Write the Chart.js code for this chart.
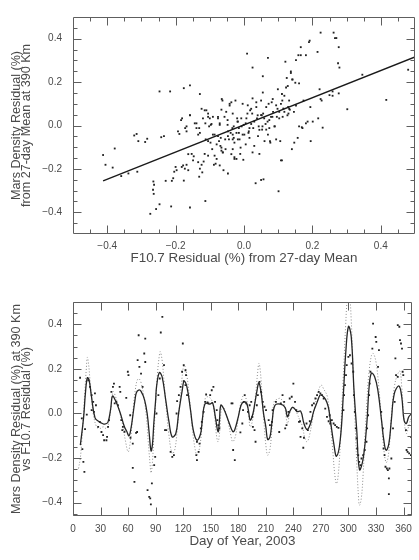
<!DOCTYPE html>
<html lang="en">
<head>
<meta charset="UTF-8">
<title>Mars Density Residual vs F10.7 Residual</title>
<script src="https://cdn.jsdelivr.net/npm/chart.js"></script>
<style>
    html, body { margin: 0; padding: 0; background: #fff; }
    .panel { position: absolute; left: 0; width: 419px; height: 280px; }
    #topPanel { top: 0; }
    #bottomPanel { top: 280px; }
</style>
</head>
<body>

<div class="panel" id="topPanel"><canvas id="scatter" width="419" height="280"></canvas></div>
<div class="panel" id="bottomPanel"><canvas id="series" width="419" height="280"></canvas></div>

<script>
// ---- top panel: daily residuals, F10.7 (x) vs Mars density (y) ----
const f107Res = [
 -0.412,-0.405,-0.378,-0.384,-0.359,-0.338,-0.321,-0.314,-0.309,-0.312,-0.289,-0.283,-0.247,-0.216,-0.242,-0.234,
 -0.265,-0.263,-0.266,-0.264,-0.257,-0.274,-0.247,-0.229,-0.213,-0.211,-0.207,-0.204,-0.200,-0.197,-0.193,-0.189,
 -0.184,-0.181,-0.176,-0.158,-0.172,-0.168,-0.182,-0.178,-0.173,-0.168,-0.163,-0.176,-0.158,-0.158,-0.153,-0.147,
 -0.149,-0.139,-0.131,-0.129,-0.129,-0.134,-0.129,-0.124,-0.131,-0.122,-0.118,-0.113,-0.110,-0.105,-0.112,-0.105,
 -0.100,-0.095,-0.098,-0.093,-0.091,-0.086,-0.088,-0.105,-0.115,-0.080,-0.083,-0.076,-0.071,-0.066,-0.063,-0.076,
 -0.073,-0.069,-0.066,-0.062,-0.071,-0.060,-0.054,-0.052,-0.048,-0.047,-0.044,-0.042,-0.047,-0.037,-0.033,-0.034,
 -0.033,-0.030,-0.028,-0.033,-0.028,-0.022,-0.020,-0.018,-0.015,-0.013,-0.011,-0.007,-0.004,-0.002,0.001,0.005,
 0.007,0.009,0.011,0.014,0.016,0.018,0.021,0.024,0.025,0.027,0.030,0.025,0.034,0.036,0.038,0.041,
 0.043,0.045,0.050,0.050,0.053,0.055,0.055,0.056,0.059,0.063,0.057,0.065,0.070,0.072,0.074,0.076,
 0.079,0.070,0.084,0.085,0.090,0.094,0.096,0.099,0.101,0.103,0.106,0.108,0.111,0.113,0.115,0.118,
 0.111,0.121,0.125,0.128,0.129,0.132,0.130,0.134,0.137,0.140,0.142,0.146,0.150,0.152,0.157,0.159,
 0.161,0.166,0.171,0.174,0.181,0.186,0.190,0.192,0.181,0.194,0.195,0.201,0.215,0.217,0.221,0.224,
 0.227,0.230,0.224,0.259,0.262,0.266,0.270,0.259,0.277,0.275,0.279,0.277,0.302,0.346,0.416,0.480,
 0.250,0.169,
 -0.168,-0.158,-0.163,-0.144,-0.139,-0.134,-0.124,-0.120,-0.115,-0.113,-0.105,-0.102,-0.097,-0.091,-0.086,-0.080,
 -0.076,-0.071,-0.068,-0.066,-0.065,-0.062,-0.057,-0.055,-0.048,-0.047,-0.042,-0.039,-0.037,-0.033,-0.030,-0.028,
 -0.025,-0.022,-0.019,-0.018,-0.015,-0.010,-0.008,-0.004,-0.001,0.005,0.010,0.013,0.016,0.021,0.025,0.030,
 0.036,0.040,0.045,0.050,0.052,0.054,0.060,0.065,0.069,0.074,0.077,0.081,0.083,0.089,0.094,0.098,
 0.103,0.108,0.112,0.118,0.123,0.127,0.132,0.137,0.141,0.147,0.152,0.161,0.166
];
const marsRes = [
 -0.136,-0.181,-0.106,-0.194,-0.233,-0.221,-0.046,-0.039,-0.072,-0.213,-0.076,-0.061,0.157,0.157,-0.054,-0.049,
 -0.258,-0.273,-0.296,-0.315,-0.385,-0.407,-0.363,-0.255,-0.373,-0.255,-0.243,-0.213,-0.191,-0.206,-0.027,-0.039,
 0.025,0.033,0.172,0.185,-0.012,-0.027,-0.191,-0.184,-0.199,-0.181,-0.206,-0.254,-0.378,0.048,-0.131,-0.142,
 -0.161,0.010,-0.012,-0.034,0.145,-0.169,-0.199,-0.181,-0.236,-0.216,-0.166,-0.348,0.070,0.055,-0.064,-0.072,
 0.033,0.007,-0.079,-0.109,-0.042,-0.139,-0.181,-0.139,-0.131,-0.154,-0.176,0.040,0.010,0.073,0.115,-0.049,
 -0.072,-0.094,-0.116,-0.124,-0.184,-0.206,-0.109,0.063,0.025,-0.027,-0.064,0.100,-0.221,0.107,0.055,-0.012,
 -0.042,-0.057,-0.079,-0.109,-0.146,-0.154,0.033,0.018,-0.034,-0.064,-0.131,-0.004,0.100,-0.158,-0.042,-0.087,
 0.033,0.331,0.093,-0.027,-0.057,0.070,0.007,0.055,0.125,-0.012,-0.094,0.267,-0.266,0.085,0.033,-0.049,
 -0.004,-0.131,0.115,0.048,-0.019,0.227,0.152,0.055,0.033,0.007,-0.248,-0.019,-0.042,0.100,0.025,-0.072,
 0.040,0.312,0.122,0.063,-0.004,0.093,0.040,0.167,-0.303,0.063,-0.072,0.100,0.145,0.040,0.078,0.137,
 -0.161,0.294,0.219,0.182,0.085,0.115,0.055,0.073,0.242,-0.109,0.212,0.063,0.197,0.301,-0.057,0.324,
 0.194,0.361,-0.012,0.115,0.010,0.018,0.384,0.391,0.324,0.085,-0.072,0.018,0.339,0.033,0.167,0.428,
 0.115,-0.010,0.122,0.137,0.428,0.403,0.403,0.157,0.361,0.287,0.267,0.148,0.075,0.234,0.118,0.257,
 0.140,-0.008,
 -0.004,0.047,-0.132,0.010,-0.012,-0.042,0.077,0.033,0.070,0.010,0.040,-0.004,0.003,0.040,-0.042,-0.087,
 0.033,0.003,-0.057,-0.102,0.122,-0.124,0.040,-0.064,0.003,-0.049,0.092,-0.034,-0.132,-0.064,-0.004,-0.154,
 0.115,-0.034,0.018,-0.064,-0.012,-0.102,0.033,-0.042,0.003,0.010,0.055,-0.034,-0.012,0.077,-0.124,0.018,
 0.107,0.047,-0.020,-0.251,0.047,-0.004,-0.072,0.085,0.018,-0.012,-0.079,0.107,0.040,-0.004,-0.064,0.077,
 0.033,-0.161,0.115,0.063,0.175,0.047,0.077,0.249,0.212,-0.079,0.092,-0.004,0.324
];
// least-squares fit line end points
const fitX = [-0.412, 0.5];
const fitY = [-0.255, 0.316];

// ---- bottom panel: residuals against day of year ----
const obsDay = [
 7.7,9.6,10.2,11.3,12.4,13.1,15,16.7,18.5,20.3,22,23.9,25,22.8,20.3,27.4,29.2,31,32.8,33.9,36.4,37.1,38.2,39.2,
 41.8,43.5,44.6,45.4,47.2,48.9,50.8,51.5,52.6,54.3,53.7,56.1,58,59.7,60.4,62.3,62.6,65.1,65.1,66.9,68.7,69.8,
 70.4,71.5,72.3,74.1,75.8,77.6,78.7,78.7,81.2,83,84.1,84.8,85.9,88.4,89.5,90.9,93,94.5,95.6,97.3,99.1,100.2,
 101.6,106.3,108.1,109.9,112.8,113.4,115.3,117.1,118.8,119.6,120.6,122.5,123.1,120.6,122.5,124.2,135,134.3,
 135,136.8,137.8,139.2,140.3,142.2,144,145,146.5,147.5,149.4,151.1,152.9,154.7,156.5,157.2,158.3,159.4,172.6,
 173.7,174.4,176.2,182.3,184.4,185.2,185.9,187,188.7,190.5,192.4,194.1,195.2,195.9,197.7,198.8,200.2,201.3,
 203.1,204.8,206.7,208.5,210.2,213.1,214.5,216.7,217.4,221,224.6,226.3,228.2,230,231.1,232.5,234.6,236,238.2,
 240,241.8,243.2,246.1,247.8,247.2,249.7,251.5,250.8,254.3,255.8,257.9,258.6,260.4,262.3,264,265.8,267.6,
 269.4,271.2,273,274.7,276.6,278.4,279.5,280.1,281.9,283.8,285.5,287.3,289.1,294.5,295.2,296.2,297.3,298.1,
 299.9,301.6,303.4,305.2,305.9,306.9,308,308.8,309.5,310.6,311.7,313.1,314.2,316,317.7,319.6,320.3,321.4,
 322.5,323.1,323.9,326,326.8,329.6,330.3,332.2,333.2,335.7,337.5,338.2,339.3,340.3,341.8,342.9,344,344.6,
 344,346.7,348.5,350.3,351.1,351.8,353.7,353.7,355.4,356.1,357.2,358.3,359,359.7,362.6,363.3,364.4,366.1,
 368,368
];
const obsRes = [
 0.16,-0.022,-0.16,-0.217,-0.262,-0.07,-0.005,0.149,0.119,0.082,0.052,0.09,0.037,0.007,0.015,-0.06,-0.038,-0.083,
 -0.097,-0.12,-0.12,-0.105,-0.06,-0.03,0.097,0.119,0.134,0.045,0.052,0.037,0.119,0.097,-0.03,-0.06,-0.075,-0.082,
 0.07,0.187,0.172,-0.008,-0.109,-0.135,-0.244,-0.307,-0.087,-0.083,0.239,0.351,0.209,0.179,0.119,0.269,0.336,
 0.231,-0.344,-0.374,-0.381,-0.408,-0.314,-0.232,-0.195,0,0.082,0.157,0.363,0.433,0.217,-0.075,-0.075,-0.172,
 -0.195,-0.187,0,0.055,0.082,0.119,0.187,0.314,0.217,0.194,0.172,0.145,0.127,0.082,-0.127,-0.187,-0.209,-0.172,
 -0.135,-0.067,-0.038,0.007,0.052,0.085,0.049,0.045,0.082,0.104,0.119,0.052,0.015,-0.03,-0.052,-0.067,0.045,
 0.045,-0.164,-0.209,-0.085,-0.045,0.015,0.052,0.082,0.045,0.007,0.037,0.052,-0.015,-0.06,-0.075,-0.127,0.037,
 0.082,0.142,0.097,0.052,0.03,0.015,-0.03,-0.052,-0.038,0.015,0.052,-0.083,0.045,0.082,0.052,-0.067,-0.052,
 0.007,0.067,0.075,0.134,0.052,0.015,-0.038,-0.105,-0.035,-0.067,-0.109,-0.154,-0.045,-0.075,-0.035,0.007,
 0.037,0.045,0.067,0.082,0.097,0.09,0.082,0.067,0.022,-0.015,-0.035,-0.008,-0.045,-0.03,-0.045,-0.052,-0.06,
 -0.065,0.015,0.082,0.127,0.172,0.217,0.254,0.261,0.224,0.187,0.082,0.007,-0.067,-0.112,-0.157,-0.187,-0.217,
 -0.232,-0.202,-0.187,-0.164,-0.127,-0.067,-0.008,0.082,0.134,0.187,0.291,0.403,0.343,0.321,0.209,0.284,0.007,
 -0.067,-0.157,-0.187,-0.239,-0.247,-0.254,-0.291,-0.247,-0.362,-0.202,-0.067,0.052,0.247,0.172,0.164,0.396,
 0.389,0.329,0.314,0.291,0.187,0.172,-0.075,-0.164,-0.172,-0.179,-0.187,-0.105
];

// smoothed density residual (solid)
const densDay = [
 8,11.5,13.5,15.6,17.5,20,24,28.5,32,34.6,38,41,43,46,51,56,58.5,61,63,65,67.5,69,71.5,74,78,81,83,85,86.5,88,
 90,91,94,97,101,104.5,108,112,115,119,121,124,128,131,135,139,141,144,149,152,155,158,159.5,161,164,169,174,
 176,180,183,186,189,191,193,196,198,200.5,202.5,205,207.5,210,212,214.5,217,220,226,231,233.5,236,239,242,244,
 248,251.5,255,258.7,262,266,269,271,275,278,280,284,287,291,294.5,297,300,303,306,309,312,316,320,322.5,325,
 328.5,332,336,338.5,341,344,346.7,350,355,358,360.5,363,365.7,369
];
const densVal = [
 -0.142,-0.02,0.09,0.16,0.15,0.08,-0.02,-0.037,-0.045,-0.048,-0.04,0.02,0.078,0.06,0.008,-0.06,-0.08,-0.1,-0.07,
 -0.015,0.06,0.093,0.105,0.1,0.06,-0.008,-0.09,-0.168,-0.14,-0.045,0.06,0.12,0.183,0.165,0.06,-0.037,-0.105,-0.09,
 0,0.105,0.145,0.12,0.015,-0.075,-0.12,-0.09,-0.022,0.045,0.042,0.048,-0.015,-0.082,-0.03,0.037,0.022,-0.03,
 -0.082,-0.075,-0.015,0.037,0.052,0.045,0.015,-0.03,0,0.045,0.105,0.138,0.09,0,-0.06,-0.117,-0.105,-0.03,0.037,
 0.042,0.027,-0.015,0.008,0.027,0.018,0.008,0.01,-0.045,-0.072,-0.045,0.008,0.052,0.082,0.082,0.063,0.03,
 -0.022,-0.135,-0.192,-0.12,0.09,0.27,0.39,0.345,0.105,-0.075,-0.252,-0.202,-0.045,0.12,0.181,0.165,0.105,
 -0.03,-0.12,-0.165,-0.135,-0.03,0.09,0.123,0.075,-0.03,-0.045,-0.015,0
];

// smoothed F10.7 residual (dotted)
const fluxDay = [
 6,8,9.6,11.5,13,14.5,15.6,17,18.5,20,22,25.7,29,33,36.5,39,41.5,43.6,46,50,54,57,60,62,64,66,68,70,72,74,77,80,
 82,84,85,86.5,88,90,92,94,95,97,99,101,104,108,111,114,117,119,121,124,127,130,133,135,138,141,144,147,151,154,
 156,158,160,162,165,169,172,174,177,180,183,186,189,191,193,196,199,201,202.5,204,206,208,210,212,214.5,217,
 219,223,226,230,233.5,236,239,242,244,247,250,252.5,255,258,262,266,270,273,277,280,283,285,287,289,291,293,
 295,297,299,301,303,305,307,309,311,312,314,316,318,320,322,325,327,330,333,336,338.5,341,343,345,347,350,353,
 356,358,360.5,363,366,369
];
const fluxVal = [
 -0.247,-0.2,-0.12,0,0.105,0.2,0.252,0.22,0.15,0.08,0,-0.06,-0.068,-0.06,-0.068,-0.04,0.03,0.097,0.08,0.02,-0.05,
 -0.12,-0.172,-0.14,-0.06,0.04,0.11,0.15,0.155,0.14,0.08,-0.02,-0.13,-0.23,-0.267,-0.22,-0.1,0.05,0.18,0.26,
 0.277,0.24,0.15,0.05,-0.08,-0.18,-0.16,-0.05,0.08,0.17,0.217,0.17,0.06,-0.07,-0.16,-0.187,-0.15,-0.04,0.067,
 0.075,0.06,0,-0.09,-0.127,-0.07,0.03,0.02,-0.04,-0.1,-0.127,-0.1,-0.02,0.05,0.082,0.06,0.01,-0.06,-0.02,0.09,
 0.18,0.225,0.19,0.08,-0.04,-0.14,-0.187,-0.16,-0.05,0.052,0.065,0.067,0.04,-0.045,0,0.03,0.02,0,-0.03,-0.06,
 -0.11,-0.127,-0.09,0,0.08,0.127,0.11,0.075,-0.03,-0.17,-0.27,-0.315,-0.27,-0.14,0.05,0.22,0.4,0.52,0.53,0.42,
 0.2,-0.02,-0.22,-0.38,-0.412,-0.38,-0.27,-0.1,0.05,0.17,0.26,0.269,0.23,0.12,-0.03,-0.16,-0.22,-0.2,-0.12,0,
 0.12,0.17,0.19,0.12,-0.02,-0.09,-0.05,-0.01
];

// tick labels
const resTicks = [-0.4, -0.2, 0.0, 0.2, 0.4];
const dayTicks = [0, 30, 60, 90, 120, 150, 180, 210, 240, 270, 300, 330, 360];

const INK = '#4a4a4a';
const FRAME = '#5e5e5e';
const FONT = '"Liberation Sans", Arial, sans-serif';

Chart.defaults.font.family = FONT;
Chart.defaults.color = INK;

function pairs(xs, ys) {
    return xs.map((v, i) => ({ x: v, y: ys[i] }));
}

function steps(lo, hi, step) {
    const out = [];
    for (let v = lo; v <= hi + 1e-9; v += step) out.push(+v.toFixed(4));
    return out;
}

function fmtRes(v) {
    return Number(v).toFixed(1).replace('-', '\u2212');
}

// IDL style box with tick marks pointing inside, on all four sides
const idlBox = {
    id: 'idlBox',
    afterDatasetsDraw(chart, args, opts) {
        const { ctx, chartArea: a, scales } = chart;
        const L = Math.round(a.left) + 0.5, R = Math.round(a.right) - 0.5;
        const T = Math.round(a.top) + 0.5, B = Math.round(a.bottom) - 0.5;
        ctx.save();
        ctx.strokeStyle = FRAME;
        ctx.lineWidth = 1;
        ctx.beginPath();
        ctx.rect(L, T, R - L, B - T);
        const mark = (list, len, axis) => list.forEach(v => {
            if (axis === 'x') {
                const p = Math.round(scales.x.getPixelForValue(v)) + 0.5;
                ctx.moveTo(p, B); ctx.lineTo(p, B - len);
                ctx.moveTo(p, T); ctx.lineTo(p, T + len);
            } else {
                const p = Math.round(scales.y.getPixelForValue(v)) + 0.5;
                ctx.moveTo(L, p); ctx.lineTo(L + len, p);
                ctx.moveTo(R, p); ctx.lineTo(R - len, p);
            }
        });
        mark(opts.xMinor, 4, 'x');
        mark(opts.xMajor, 8, 'x');
        mark(opts.yMinor, 4, 'y');
        mark(opts.yMajor, 8, 'y');
        ctx.stroke();
        ctx.restore();
    }
};

function yAxis(min, max, titleLines) {
    return {
        type: 'linear', min: min, max: max,
        afterFit(s) { s.width = 73; },
        afterBuildTicks(s) { s.ticks = resTicks.map(v => ({ value: v })); },
        grid: { display: false, drawTicks: false },
        border: { display: false },
        ticks: { padding: 11, color: INK, font: { size: 10 }, callback: v => fmtRes(v) },
        title: {
            display: true, text: titleLines, color: INK,
            font: { size: 12.6, lineHeight: 0.82 },
            padding: { top: 11.5, bottom: 0 }
        }
    };
}

function xAxis(min, max, ticksList, fmt, title, height, pad) {
    return {
        type: 'linear', min: min, max: max,
        afterFit(s) { s.height = height; },
        afterBuildTicks(s) { s.ticks = ticksList.map(v => ({ value: v })); },
        grid: { display: false, drawTicks: false },
        border: { display: false },
        ticks: { padding: pad, color: INK, font: { size: 10 }, maxRotation: 0, autoSkip: false, callback: fmt },
        title: {
            display: true, text: title, color: INK,
            font: { size: 13.4, lineHeight: 0.82 },
            padding: { top: 0, bottom: 0 }
        }
    };
}

new Chart(document.getElementById('scatter'), {
    type: 'scatter',
    data: {
        datasets: [{
            label: 'fit',
            data: pairs(fitX, fitY),
            showLine: true,
            borderColor: '#1a1a1a',
            borderWidth: 1.4,
            pointRadius: 0,
            order: 0
        }, {
            label: 'days',
            data: pairs(f107Res, marsRes),
            pointStyle: 'rect',
            pointRadius: 1.3,
            backgroundColor: '#222',
            borderWidth: 0,
            order: 1
        }]
    },
    options: {
        responsive: false,
        animation: false,
        devicePixelRatio: 1,
        layout: { padding: { top: 11, right: 2, bottom: 16, left: 0 } },
        plugins: {
            legend: { display: false },
            tooltip: { enabled: false },
            idlBox: {
                xMajor: resTicks, xMinor: steps(-0.45, 0.45, 0.05),
                yMajor: resTicks, yMinor: steps(-0.45, 0.45, 0.05)
            }
        },
        scales: {
            x: xAxis(-0.5, 0.5, resTicks, v => fmtRes(v), 'F10.7 Residual (%) from 27-day Mean', 30, 6),
            y: yAxis(-0.5, 0.5, ['Mars Density Residual (%)', 'from 27-day Mean at 390 Km'])
        }
    },
    plugins: [idlBox]
});

new Chart(document.getElementById('series'), {
    type: 'scatter',
    data: {
        datasets: [{
            label: 'density',
            data: pairs(densDay, densVal),
            showLine: true,
            tension: 0.4,
            borderColor: '#262626',
            borderWidth: 1.3,
            pointRadius: 0,
            order: 0
        }, {
            label: 'obs',
            data: pairs(obsDay, obsRes),
            pointStyle: 'rect',
            pointRadius: 1.3,
            backgroundColor: '#222',
            borderWidth: 0,
            order: 1
        }, {
            label: 'F10.7',
            data: pairs(fluxDay, fluxVal),
            showLine: true,
            tension: 0.4,
            borderColor: '#8c8c8c',
            borderWidth: 1,
            borderDash: [1, 2],
            pointRadius: 0,
            order: 2
        }]
    },
    options: {
        responsive: false,
        animation: false,
        devicePixelRatio: 1,
        layout: { padding: { top: 22, right: 3, bottom: 13, left: 0 } },
        plugins: {
            legend: { display: false },
            tooltip: { enabled: false },
            idlBox: {
                xMajor: dayTicks, xMinor: [],
                yMajor: resTicks, yMinor: steps(-0.45, 0.45, 0.05)
            }
        },
        scales: {
            x: xAxis(0, 369, dayTicks, v => String(v), 'Day of Year, 2003', 31, 7),
            y: yAxis(-0.46, 0.5, ['Mars Density Residual (%) at 390 Km', 'vs F10.7 Residual (%)'])
        }
    },
    plugins: [idlBox]
});
</script>

</body>
</html>
